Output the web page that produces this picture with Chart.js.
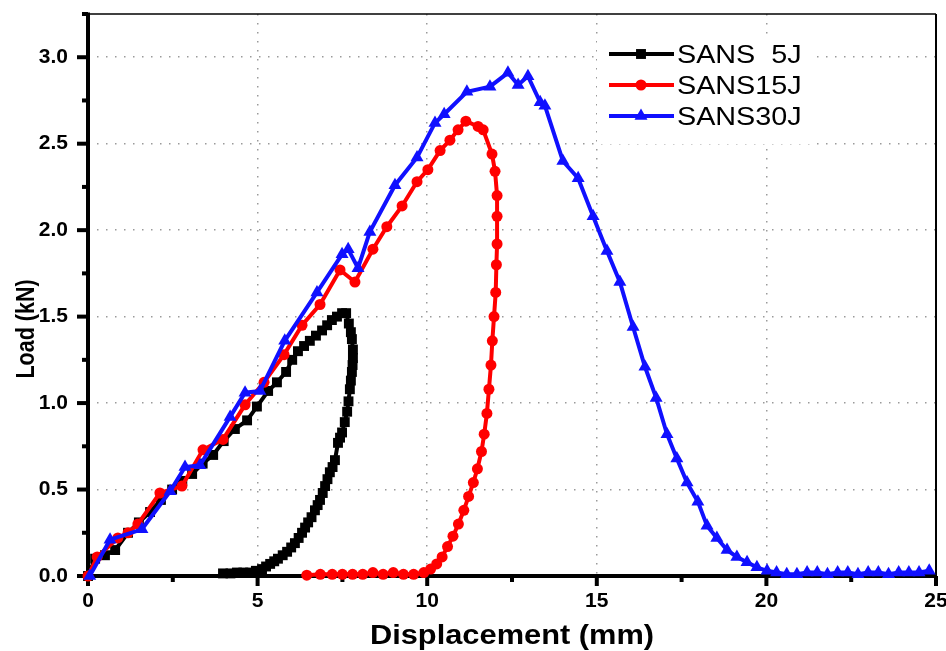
<!DOCTYPE html>
<html>
<head>
<meta charset="utf-8">
<script src="https://cdn.jsdelivr.net/npm/chart.js@4.4.1/dist/chart.umd.min.js"></script>
<style>
  html, body { margin: 0; padding: 0; background: #fff; }
  #wrap { width: 946px; height: 651px; }
</style>
</head>
<body>
<div id="wrap"><canvas id="c" width="946" height="651"></canvas></div>
<script>
// Load–displacement curves of the impact tests (displacement in mm, load in kN)
const sans5X = [0, 0.21, 0.50, 0.80, 1.18, 1.50, 1.83, 2.15, 2.48, 2.78, 3.07, 3.38, 3.69, 4.00, 4.33, 4.69, 4.98, 5.31, 5.57, 5.84, 6.02, 6.19, 6.37, 6.54, 6.72, 6.90, 7.05, 7.19, 7.34, 7.49, 7.61, 7.69, 7.75, 7.78, 7.81, 7.81, 7.80, 7.78, 7.75, 7.72, 7.68, 7.64, 7.57, 7.49, 7.43, 7.37, 7.28, 7.21, 7.13, 7.06, 6.99, 6.92, 6.84, 6.77, 6.69, 6.59, 6.49, 6.40, 6.31, 6.21, 6.10, 5.99, 5.87, 5.74, 5.60, 5.49, 5.37, 5.25, 5.13, 4.95, 4.78, 4.58, 4.39, 4.20, 3.98];
const sans5Y = [0, 0.10, 0.12, 0.15, 0.25, 0.31, 0.37, 0.44, 0.50, 0.55, 0.59, 0.65, 0.70, 0.78, 0.85, 0.90, 0.98, 1.07, 1.12, 1.18, 1.25, 1.30, 1.33, 1.36, 1.39, 1.42, 1.45, 1.48, 1.50, 1.52, 1.52, 1.46, 1.41, 1.37, 1.31, 1.26, 1.22, 1.18, 1.13, 1.08, 1.01, 0.95, 0.89, 0.83, 0.80, 0.77, 0.67, 0.63, 0.60, 0.56, 0.52, 0.48, 0.44, 0.41, 0.38, 0.34, 0.31, 0.28, 0.25, 0.22, 0.19, 0.165, 0.14, 0.12, 0.10, 0.085, 0.07, 0.055, 0.04, 0.03, 0.02, 0.02, 0.02, 0.015, 0.015];

const sans15X = [0, 0.27, 0.88, 1.18, 1.47, 2.12, 2.77, 3.39, 3.98, 4.63, 5.19, 5.78, 6.31, 6.84, 7.43, 7.87, 8.40, 8.81, 9.26, 9.70, 10.02, 10.38, 10.67, 10.91, 11.14, 11.50, 11.65, 11.91, 12.00, 12.06, 12.06, 12.06, 12.04, 12.02, 11.97, 11.92, 11.88, 11.82, 11.76, 11.68, 11.60, 11.48, 11.36, 11.22, 11.08, 10.92, 10.76, 10.60, 10.44, 10.28, 10.10, 9.90, 9.60, 9.30, 9.00, 8.70, 8.40, 8.10, 7.80, 7.50, 7.20, 6.85, 6.45];
const sans15Y = [0, 0.11, 0.22, 0.25, 0.30, 0.48, 0.52, 0.73, 0.79, 0.99, 1.12, 1.28, 1.45, 1.57, 1.77, 1.70, 1.89, 2.02, 2.14, 2.28, 2.35, 2.46, 2.52, 2.58, 2.63, 2.60, 2.58, 2.44, 2.34, 2.20, 2.08, 1.92, 1.80, 1.64, 1.50, 1.36, 1.22, 1.08, 0.94, 0.82, 0.72, 0.62, 0.54, 0.46, 0.38, 0.30, 0.23, 0.17, 0.11, 0.07, 0.04, 0.02, 0.01, 0.01, 0.02, 0.01, 0.02, 0.01, 0.01, 0.01, 0.01, 0.01, 0.005];

const sans30X = [0.05, 0.65, 1.59, 2.42, 2.86, 3.30, 4.19, 4.63, 5.07, 5.80, 6.75, 7.49, 7.67, 7.96, 8.31, 9.05, 9.70, 10.23, 10.50, 11.17, 11.85, 12.38, 12.68, 12.97, 13.33, 13.47, 14.00, 14.45, 14.89, 15.30, 15.68, 16.07, 16.42, 16.75, 17.07, 17.36, 17.66, 17.98, 18.25, 18.54, 18.84, 19.13, 19.43, 19.72, 20.02, 20.3, 20.6, 20.9, 21.2, 21.5, 21.8, 22.1, 22.4, 22.7, 23.0, 23.3, 23.6, 23.9, 24.2, 24.5, 24.8];
const sans30Y = [0, 0.21, 0.27, 0.49, 0.63, 0.64, 0.92, 1.06, 1.07, 1.36, 1.64, 1.86, 1.89, 1.78, 1.99, 2.26, 2.42, 2.62, 2.67, 2.80, 2.83, 2.91, 2.84, 2.89, 2.74, 2.72, 2.40, 2.30, 2.08, 1.88, 1.70, 1.44, 1.21, 1.03, 0.82, 0.68, 0.54, 0.43, 0.29, 0.22, 0.15, 0.11, 0.08, 0.05, 0.03, 0.02, 0.01, 0.01, 0.02, 0.02, 0.01, 0.02, 0.02, 0.01, 0.02, 0.02, 0.01, 0.02, 0.02, 0.02, 0.03, 0.02];

const seriesNames = ['SANS  5J', 'SANS15J', 'SANS30J'];
const xMajorTicks = [0, 5, 10, 15, 20, 25];
const xMinorTicks = [2.5, 7.5, 12.5, 17.5, 22.5];
const yMajorTicks = [0, 0.5, 1.0, 1.5, 2.0, 2.5, 3.0];
const yMinorTicks = [0.25, 0.75, 1.25, 1.75, 2.25, 2.75, 3.25];
const xTitle = 'Displacement (mm)';
const yTitle = 'Load (kN)';

const toPoints = (xs, ys) => xs.map((v, i) => ({ x: v, y: ys[i] }));

const styles = [
  { color: '#000000', pointStyle: 'rect', radius: 7 },
  { color: '#ff0000', pointStyle: 'circle', radius: 5.5 },
  { color: '#1010ff', pointStyle: 'triangle', radius: 7.5 }
];

const seriesData = [toPoints(sans5X, sans5Y), toPoints(sans15X, sans15Y), toPoints(sans30X, sans30Y)];

const datasets = seriesData.map((pts, i) => ({
  label: seriesNames[i],
  data: pts,
  showLine: true,
  borderColor: styles[i].color,
  backgroundColor: styles[i].color,
  borderWidth: 4,
  pointStyle: styles[i].pointStyle,
  pointRadius: styles[i].radius,
  pointBorderWidth: 0,
  pointHoverRadius: styles[i].radius,
  tension: 0,
  clip: false,
  order: 3 - i
}));

function seg(ctx, x1, y1, x2, y2) {
  ctx.beginPath(); ctx.moveTo(x1, y1); ctx.lineTo(x2, y2); ctx.stroke();
}

// Axis frame with outward major/minor ticks, and the legend backdrop
const framePlugin = {
  id: 'frame',
  beforeDatasetsDraw(chart) {
    const { ctx, chartArea: a, scales: { x, y } } = chart;
    ctx.save();
    ctx.fillStyle = '#ffffff';
    ctx.fillRect(597, 40, 215, 104);

    ctx.strokeStyle = '#000';
    ctx.lineCap = 'butt';
    ctx.lineWidth = 1.5;
    seg(ctx, a.left, a.top, a.right, a.top);
    ctx.lineWidth = 2;
    seg(ctx, a.right, a.top, a.right, a.bottom);
    ctx.lineWidth = 4;
    seg(ctx, a.left, a.top - 1.5, a.left, a.bottom + 2);
    seg(ctx, a.left - 2, a.bottom, a.right + 1, a.bottom);

    xMajorTicks.forEach(v => { const p = x.getPixelForValue(v); seg(ctx, p, a.bottom, p, a.bottom + 10); });
    xMinorTicks.forEach(v => { const p = x.getPixelForValue(v); seg(ctx, p, a.bottom, p, a.bottom + 6); });
    yMajorTicks.forEach(v => { const p = y.getPixelForValue(v); seg(ctx, a.left, p, a.left - 11, p); });
    yMinorTicks.forEach(v => { const p = y.getPixelForValue(v); seg(ctx, a.left, p, a.left - 6, p); });
    ctx.restore();
  },
  afterDraw(chart) {
    const { ctx, chartArea: a } = chart;
    ctx.save();
    ctx.fillStyle = '#000';

    // x axis title
    ctx.font = 'bold 28px "Liberation Sans", Arial, sans-serif';
    ctx.textAlign = 'center';
    ctx.textBaseline = 'alphabetic';
    ctx.save();
    ctx.translate((a.left + a.right) / 2, 644);
    ctx.scale(1.1, 1);
    ctx.fillText(xTitle, 0, 0);
    ctx.restore();

    // y axis title
    ctx.save();
    ctx.translate(34, 329);
    ctx.rotate(-Math.PI / 2);
    ctx.scale(1, 1.2);
    ctx.font = 'bold 21.5px "Liberation Sans", Arial, sans-serif';
    ctx.textAlign = 'center';
    ctx.fillText(yTitle, 0, 0);
    ctx.restore();

    // legend: line + marker + label
    const rows = [54, 85, 116];
    ctx.font = '25px "Liberation Sans", Arial, sans-serif';
    ctx.textAlign = 'left';
    rows.forEach((ry, i) => {
      const st = styles[i];
      ctx.strokeStyle = st.color;
      ctx.fillStyle = st.color;
      ctx.lineWidth = 4;
      seg(ctx, 609, ry, 674, ry);
      Chart.helpers.drawPoint(ctx, { pointStyle: st.pointStyle, radius: st.radius, rotation: 0, borderWidth: 0 }, 641, ry);
      ctx.fillStyle = '#000';
      ctx.save();
      ctx.translate(677, ry + 9);
      ctx.scale(1.15, 1);
      ctx.fillText(seriesNames[i], 0, 0);
      ctx.restore();
    });
    ctx.restore();
  }
};

const tickFont = { family: '"Liberation Sans", Arial, sans-serif', weight: 'bold', size: 21 };

new Chart(document.getElementById('c'), {
  type: 'scatter',
  data: { datasets },
  options: {
    responsive: false,
    animation: false,
    devicePixelRatio: 1,
    layout: { autoPadding: false, padding: { top: 14, right: 10, left: 0, bottom: 0 } },
    plugins: { legend: { display: false }, tooltip: { enabled: false } },
    scales: {
      x: {
        type: 'linear',
        min: 0,
        max: 25,
        afterBuildTicks: s => { s.ticks = xMajorTicks.map(v => ({ value: v })); },
        afterFit: s => { s.height = 75; s.paddingLeft = 0; s.paddingRight = 0; },
        ticks: { font: tickFont, color: '#000', padding: 13, maxRotation: 0, autoSkip: false },
        grid: {
          drawTicks: false,
          lineWidth: 1.5,
          color: c => (c.tick && (c.tick.value === 0 || c.tick.value === 25)) ? 'rgba(0,0,0,0)' : '#9a9a9a'
        },
        border: { display: false, dash: [1.5, 7.5] }
      },
      y: {
        type: 'linear',
        min: 0,
        max: 3.25,
        afterBuildTicks: s => { s.ticks = yMajorTicks.map(v => ({ value: v })); },
        afterFit: s => { s.width = 88; s.paddingTop = 0; s.paddingBottom = 0; },
        ticks: { font: tickFont, color: '#000', padding: 20, callback: v => Number(v).toFixed(1) },
        grid: {
          drawTicks: false,
          lineWidth: 1.5,
          color: c => (c.tick && c.tick.value === 0) ? 'rgba(0,0,0,0)' : '#9a9a9a'
        },
        border: { display: false, dash: [1.5, 7.5] }
      }
    }
  },
  plugins: [framePlugin]
});
</script>
</body>
</html>
